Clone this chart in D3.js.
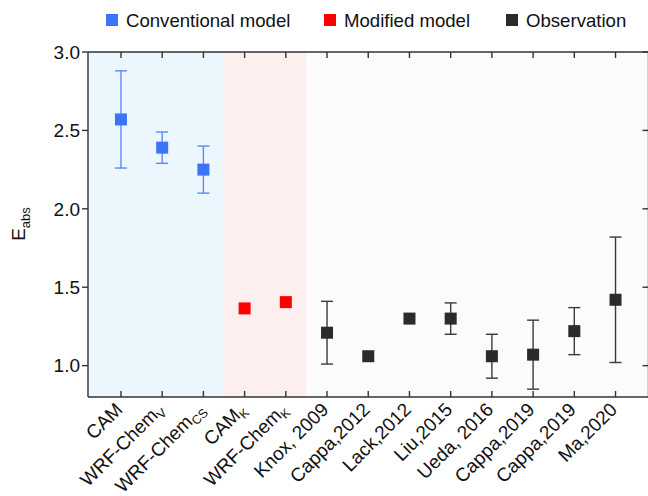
<!DOCTYPE html>
<html>
<head>
  <title>Eabs comparison</title>
  <script src="https://d3js.org/d3.v7.min.js"></script>
  <style>
    body { margin: 0; background: #fff; }
    svg { font-family: "Liberation Sans", Arial, Helvetica, sans-serif; }
  </style>
</head>
<body>
  <svg id="chart" width="648" height="496"></svg>

  <script>
    // labels: base text + subscript
    const labels = ["CAM", "WRF-Chem", "WRF-Chem", "CAM", "WRF-Chem", "Knox, 2009", "Cappa,2012",
      "Lack,2012", "Liu,2015", "Ueda, 2016", "Cappa,2019", "Cappa,2019", "Ma,2020"];
    const subs = ["", "V", "CS", "K", "K", "", "", "", "", "", "", "", ""];
    const groups = ["conv", "conv", "conv", "mod", "mod", "obs", "obs", "obs", "obs", "obs", "obs", "obs", "obs"];
    const values = [2.57, 2.39, 2.25, 1.365, 1.405, 1.21, 1.06, 1.30, 1.30, 1.06, 1.07, 1.22, 1.42];
    const upper = [2.88, 2.49, 2.40, null, null, 1.41, null, null, 1.40, 1.20, 1.29, 1.37, 1.82];
    const lower = [2.26, 2.29, 2.10, null, null, 1.01, null, null, 1.20, 0.92, 0.85, 1.07, 1.02];
    const yTicks = [1.0, 1.5, 2.0, 2.5, 3.0];

    const legendNames = ["Conventional model", "Modified model", "Observation"];
    const markColor = { conv: "#3b74f6", mod: "#ff0000", obs: "#2b2b2b" };
    const barColor = { conv: "#5a8bf5", mod: "#ff0000", obs: "#3a3a3a" };
    const bgColor = { conv: "#ecf7fd", mod: "#fdefee", obs: "#fbfbfb" };

    const svg = d3.select("#chart");
    const pLeft = 88, pRight = 648.5, pTop = 52, pBottom = 397;

    const ids = labels.map((d, i) => i);
    const x = d3.scalePoint().domain(ids).range([pLeft, pRight]).padding(0.8);
    const y = d3.scaleLinear().domain([0.8, 3.0]).range([pBottom, pTop]);
    const step = x.step();

    // shaded backgrounds per group
    const grpOrder = ["conv", "mod", "obs"];
    grpOrder.forEach((g, k) => {
      const idx = ids.filter(i => groups[i] === g);
      const x0 = k === 0 ? pLeft : x(idx[0]) - step / 2;
      const x1 = k === grpOrder.length - 1 ? pRight : x(idx[idx.length - 1]) + step / 2;
      svg.append("rect")
        .attr("x", x0).attr("y", pTop)
        .attr("width", x1 - x0).attr("height", pBottom - pTop)
        .attr("fill", bgColor[g]);
    });

    // error bars
    const eb = svg.append("g");
    ids.filter(i => upper[i] != null).forEach(i => {
      const cx = x(i), c = barColor[groups[i]];
      eb.append("line").attr("x1", cx).attr("x2", cx)
        .attr("y1", y(upper[i])).attr("y2", y(lower[i]))
        .attr("stroke", c).attr("stroke-width", 1.4);
      [upper[i], lower[i]].forEach(v => {
        eb.append("line").attr("x1", cx - 6).attr("x2", cx + 6)
          .attr("y1", y(v)).attr("y2", y(v))
          .attr("stroke", c).attr("stroke-width", 1.4);
      });
    });

    // markers
    const ms = 12;
    svg.append("g").selectAll("rect").data(ids).join("rect")
      .attr("x", i => x(i) - ms / 2)
      .attr("y", i => y(values[i]) - ms / 2)
      .attr("width", ms).attr("height", ms)
      .attr("fill", i => markColor[groups[i]]);

    // frame and ticks
    const axisColor = "#333333";
    const ax = svg.append("g").attr("stroke", axisColor).attr("stroke-width", 1.4);
    ax.append("line").attr("x1", pLeft).attr("x2", pRight).attr("y1", pTop).attr("y2", pTop);
    ax.append("line").attr("x1", pLeft).attr("x2", pRight).attr("y1", pBottom).attr("y2", pBottom);
    ax.append("line").attr("x1", pLeft).attr("x2", pLeft).attr("y1", pTop).attr("y2", pBottom);
    ax.append("line").attr("x1", pRight).attr("x2", pRight).attr("y1", pTop).attr("y2", pBottom);
    yTicks.forEach(v => {
      ax.append("line").attr("x1", pLeft - 6).attr("x2", pLeft).attr("y1", y(v)).attr("y2", y(v));
      ax.append("line").attr("x1", pRight - 6).attr("x2", pRight).attr("y1", y(v)).attr("y2", y(v));
    });
    ids.forEach(i => {
      ax.append("line").attr("x1", x(i)).attr("x2", x(i)).attr("y1", pBottom - 6).attr("y2", pBottom);
      ax.append("line").attr("x1", x(i)).attr("x2", x(i)).attr("y1", pTop).attr("y2", pTop + 6);
    });

    // y tick labels
    svg.append("g").selectAll("text").data(yTicks).join("text")
      .attr("x", pLeft - 8).attr("y", d => y(d)).attr("dy", "0.36em")
      .attr("text-anchor", "end").attr("font-size", 19).attr("fill", "#111")
      .text(d3.format(".1f"));

    // x labels, rotated
    const xl = svg.append("g");
    ids.forEach(i => {
      const t = xl.append("text")
        .attr("transform", `translate(${x(i) - 7},${pBottom + 4}) rotate(-45)`)
        .attr("text-anchor", "end")
        .attr("dy", "0.72em")
        .attr("font-size", 19)
        .attr("fill", "#111");
      t.append("tspan").text(labels[i]);
      if (subs[i]) {
        t.append("tspan").attr("font-size", 12.5).attr("dy", 4).text(subs[i]);
      }
    });

    // y label
    const yl = svg.append("text")
      .attr("transform", `translate(25,224) rotate(-90)`)
      .attr("text-anchor", "middle")
      .attr("font-size", 19)
      .attr("fill", "#111");
    yl.append("tspan").text("E");
    yl.append("tspan").attr("font-size", 13).attr("dy", 5).text("abs");

    // legend
    const legX = [106, 324, 506];
    const lg = svg.append("g");
    grpOrder.forEach((g, k) => {
      lg.append("rect").attr("x", legX[k]).attr("y", 14)
        .attr("width", 12).attr("height", 12).attr("fill", markColor[g]);
      lg.append("text").attr("x", legX[k] + 20).attr("y", 27)
        .attr("font-size", 18.6).attr("fill", "#111").text(legendNames[k]);
    });
  </script>
</body>
</html>
